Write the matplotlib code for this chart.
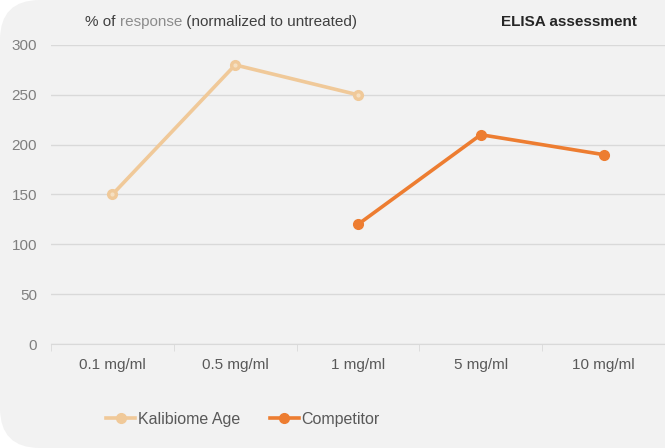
import numpy as np
import matplotlib
matplotlib.use("Agg")
from matplotlib import pyplot as plt
from matplotlib.patches import FancyBboxPatch

# data
categories = ["0.1 mg/ml", "0.5 mg/ml", "1 mg/ml", "5 mg/ml", "10 mg/ml"]
kalibiome = [150, 280, 250, np.nan, np.nan]
competitor = [np.nan, np.nan, 120, 210, 190]
yticks = [0, 50, 100, 150, 200, 250, 300]

plt.rcParams['font.family'] = ['Liberation Sans', 'DejaVu Sans']

fig = plt.figure(figsize=(6.65, 4.48), dpi=100)
fig.patch.set_facecolor("white")

# rounded grey panel behind the chart
panel = FancyBboxPatch((0.0, 0.0), 1.2, 1.0,
                       boxstyle="round,pad=0,rounding_size=0.06",
                       transform=fig.transFigure, facecolor="#f2f2f2",
                       edgecolor="none", zorder=-10, mutation_aspect=665/448)
fig.patches.append(panel)

ax = fig.add_axes([51/665, 104/448, 614/665, 299/448])
ax.set_facecolor("none")

x = np.arange(len(categories))
ax.plot(x, kalibiome, color="#f0c999", linewidth=2.6, marker="o",
        markersize=7, markerfacecolor="#f0c999", markeredgecolor="#f0c999",
        label="Kalibiome Age", zorder=3)
ax.plot(x, kalibiome, linestyle="none", marker="o", markersize=2,
        color="#f6e0c2", zorder=4)
ax.plot(x, competitor, color="#ed7d31", linewidth=2.6, marker="o",
        markersize=7, label="Competitor", zorder=3)

ax.set_xlim(-0.5, len(categories) - 0.5)
ax.set_ylim(0, 300)
ax.set_yticks(yticks)
ax.set_xticks(x)
ax.set_xticklabels(categories)
ax.set_xticks(np.arange(len(categories) + 1) - 0.5, minor=True)

ax.grid(axis="y", color="#d9d9d9", linewidth=1)
ax.set_axisbelow(True)
for s in ["top", "right", "left"]:
    ax.spines[s].set_visible(False)
ax.spines["bottom"].set_color("#d9d9d9")
ax.tick_params(axis="y", length=0, pad=10, labelsize=11, labelcolor="#7f7f7f")
ax.tick_params(axis="x", which="major", length=0, pad=10, labelsize=11,
               labelcolor="#595959")
ax.tick_params(axis="x", which="minor", length=5, color="#d9d9d9")

# header texts, chained one after another
t1 = fig.text(85/665, 1 - 22/448, "% of ", fontsize=11, color="#404040",
              va="center")
t2 = ax.annotate("response", xy=(1, 0), xycoords=t1, va="bottom",
                 fontsize=11, color="#8c8c8c")
t3 = ax.annotate(" (normalized to untreated)", xy=(1, 0), xycoords=t2,
                 va="bottom", fontsize=11, color="#404040")
fig.text(637/665, 1 - 22/448, "ELISA assessment", fontsize=11,
         color="#262626", fontweight="bold", ha="right", va="center")

leg = fig.legend(loc="center left", bbox_to_anchor=(92/665, 1 - 419/448),
                 ncol=2, frameon=False, fontsize=11.5, handlelength=1.8,
                 handletextpad=0.15, columnspacing=1.9, labelcolor="#595959")

fig.savefig("out.png", dpi=100, facecolor=fig.get_facecolor())
